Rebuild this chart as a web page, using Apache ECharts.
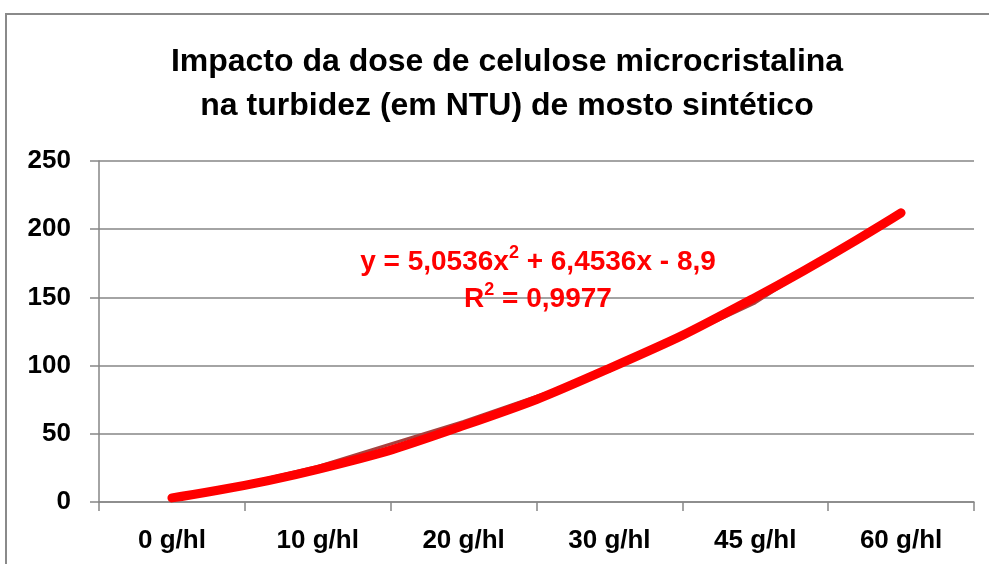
<!DOCTYPE html>
<html><head><meta charset="utf-8">
<script src="https://cdn.jsdelivr.net/npm/echarts@6/dist/echarts.min.js"></script>
<style>html,body{margin:0;padding:0;background:#fff}#c{width:989px;height:564px}</style>
</head><body><div id="c"></div>
<script>
const categories = ['0 g/hl', '10 g/hl', '20 g/hl', '30 g/hl', '45 g/hl', '60 g/hl'];
const turbidity = [1, 26, 59, 96, 146, 214];
const trendValues = [3, 24, 56, 98, 150, 212];
const yTicks = [0, 50, 100, 150, 200, 250];
const titleLines = ['Impacto da dose de celulose microcristalina', 'na turbidez (em NTU) de mosto sintético'];
const equationParts = ['y = 5,0536x', '2', ' + 6,4536x - 8,9'];
const rSquaredParts = ['R', '2', ' = 0,9977'];

const FONT = '"Liberation Sans", Arial, sans-serif';
const eqRich = {
  n: {fontFamily: FONT, fontWeight: 'bold', fontSize: 28, fill: '#ff0000', color: '#ff0000', lineHeight: 32, verticalAlign: 'bottom'},
  s: {fontFamily: FONT, fontWeight: 'bold', fontSize: 18, fill: '#ff0000', color: '#ff0000', lineHeight: 32, verticalAlign: 'top'}
};
const chart = echarts.init(document.getElementById('c'), null, {renderer: 'canvas'});
chart.setOption({
  animation: false,
  backgroundColor: '#fff',
  title: {
    text: titleLines.join('\n'),
    left: 502, top: 35, textAlign: 'center',
    textStyle: {fontFamily: FONT, fontWeight: 'bold', fontSize: 32, lineHeight: 44, color: '#000'}
  },
  graphic: [
    {type: 'rect', shape: {x: 6, y: 14, width: 1100, height: 700}, style: {fill: 'none', stroke: '#8a8a8a', lineWidth: 2}, silent: true, z: 0},
    {type: 'text', x: 538, y: 244, z: 10,
     style: {text: '{n|' + equationParts[0] + '}{s|' + equationParts[1] + '}{n|' + equationParts[2] + '}', rich: eqRich, textAlign: 'center'}},
    {type: 'text', x: 538, y: 281, z: 10,
     style: {text: '{n|' + rSquaredParts[0] + '}{s|' + rSquaredParts[1] + '}{n|' + rSquaredParts[2] + '}', rich: eqRich, textAlign: 'center'}}
  ],
  grid: {left: 99, right: 15, top: 161, bottom: 62, containLabel: false},
  xAxis: {
    type: 'category', data: categories, boundaryGap: true,
    axisLine: {lineStyle: {color: '#868686', width: 1.5}},
    axisTick: {show: true, alignWithLabel: false, length: 9, lineStyle: {color: '#868686', width: 1.5}},
    axisLabel: {margin: 26, color: '#000', fontFamily: FONT, fontWeight: 'bold', fontSize: 26}
  },
  yAxis: {
    type: 'value', min: yTicks[0], max: yTicks[yTicks.length - 1], interval: 50,
    axisLine: {show: true, lineStyle: {color: '#868686', width: 1.5}},
    axisTick: {show: true, length: 9, lineStyle: {color: '#868686', width: 1.5}},
    splitLine: {lineStyle: {color: '#868686', width: 1.5}},
    axisLabel: {margin: 28, color: '#000', fontFamily: FONT, fontWeight: 'bold', fontSize: 26}
  },
  series: [
    {type: 'line', name: 'Turbidez', data: turbidity, symbol: 'none', smooth: false,
     lineStyle: {color: '#a8423f', width: 3}, z: 2},
    {type: 'line', name: 'Tendência', data: trendValues, symbol: 'none', smooth: 0.5,
     lineStyle: {color: '#ff0000', width: 9, cap: 'round', join: 'round'}, z: 3}
  ]
});
</script></body></html>
